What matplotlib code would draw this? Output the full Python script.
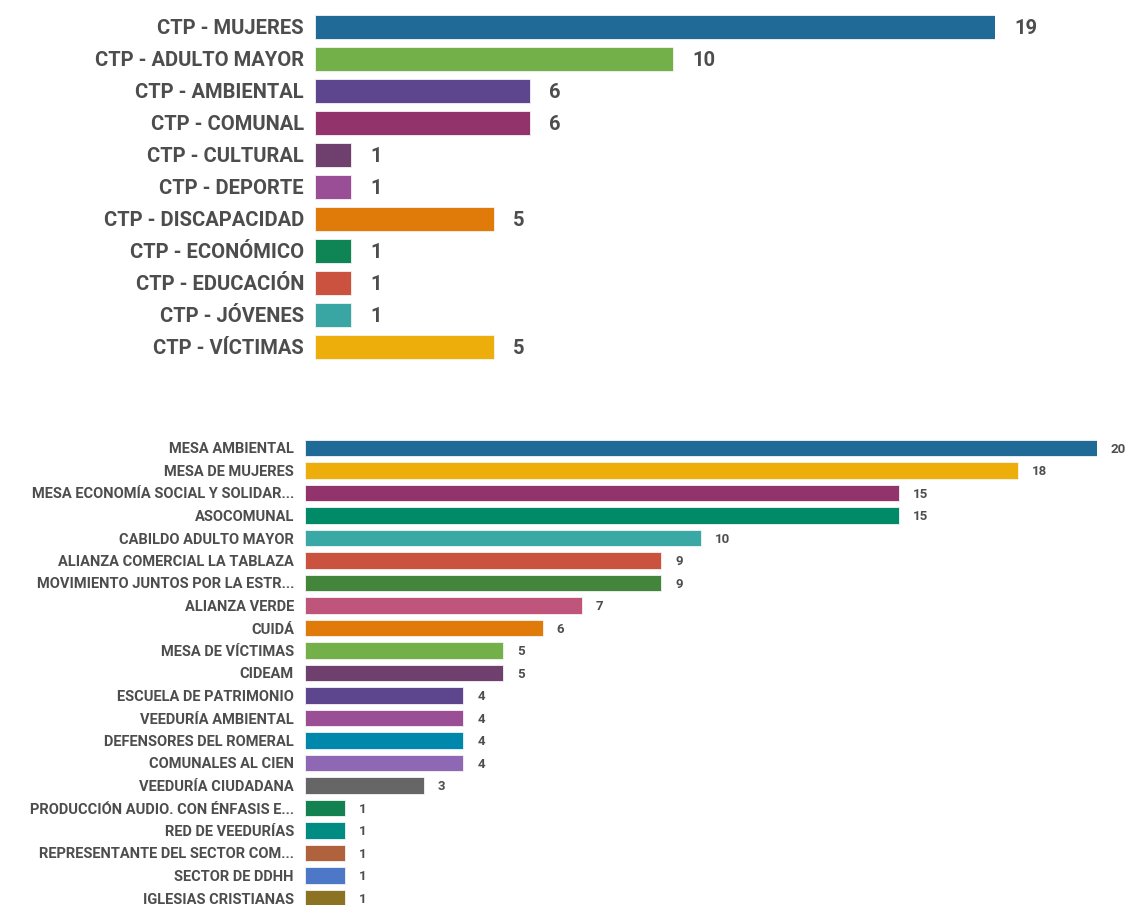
import matplotlib.pyplot as plt
from matplotlib import font_manager

# font: condensed bold look if available
names = {f.name for f in font_manager.fontManager.ttflist}
FONT = 'Liberation Sans Narrow' if 'Liberation Sans Narrow' in names else 'Roboto'
plt.rcParams['font.family'] = [FONT, 'DejaVu Sans']
TXT = '#4d4d4d'

# top chart data
ctp_labels = ['CTP - MUJERES', 'CTP - ADULTO MAYOR', 'CTP - AMBIENTAL', 'CTP - COMUNAL',
              'CTP - CULTURAL', 'CTP - DEPORTE', 'CTP - DISCAPACIDAD', 'CTP - ECONÓMICO',
              'CTP - EDUCACIÓN', 'CTP - JÓVENES', 'CTP - VÍCTIMAS']
ctp_values = [19, 10, 6, 6, 1, 1, 5, 1, 1, 1, 5]
ctp_colors = ['#1f6a96', '#74b04a', '#5d468e', '#92336b', '#6f3f6e', '#9a4e96',
              '#e07b0a', '#0f8455', '#cb523f', '#39a6a4', '#edae0b']

# bottom chart data
org_labels = ['MESA AMBIENTAL', 'MESA DE MUJERES', 'MESA ECONOMÍA SOCIAL Y SOLIDAR...',
              'ASOCOMUNAL', 'CABILDO ADULTO MAYOR', 'ALIANZA COMERCIAL LA TABLAZA',
              'MOVIMIENTO JUNTOS POR LA ESTR...', 'ALIANZA VERDE', 'CUIDÁ',
              'MESA DE VÍCTIMAS', 'CIDEAM', 'ESCUELA DE PATRIMONIO', 'VEEDURÍA AMBIENTAL',
              'DEFENSORES DEL ROMERAL', 'COMUNALES AL CIEN', 'VEEDURÍA CIUDADANA',
              'PRODUCCIÓN AUDIO. CON ÉNFASIS E...', 'RED DE VEEDURÍAS',
              'REPRESENTANTE DEL SECTOR COM...', 'SECTOR DE DDHH', 'IGLESIAS CRISTIANAS']
org_values = [20, 18, 15, 15, 10, 9, 9, 7, 6, 5, 5, 4, 4, 4, 4, 3, 1, 1, 1, 1, 1]
org_colors = ['#1f6a96', '#edae0b', '#92336b', '#008a67', '#3aa8a5', '#cb523f',
              '#43853b', '#bf557a', '#e07b0a', '#74b04a', '#6f3f6e', '#5d468e',
              '#9a4e96', '#0088ac', '#8e68b4', '#666666', '#148150', '#008c82',
              '#b0623c', '#4d78c8', '#8c7323']

W, H = 1132, 905
fig = plt.figure(figsize=(W / 100, H / 100), dpi=100)


def px_axes(left, top, width, height):
    return fig.add_axes([left / W, 1 - (top + height) / H, width / W, height / H])


def draw(ax, labels, values, colors, xmax, fs_lab, fs_val, pad_val):
    y = range(len(labels))
    ax.barh(y, values, height=0.75, color=colors, edgecolor='#f4f4f4', linewidth=0.6)
    ax.set_xlim(0, xmax)
    ax.set_ylim(len(labels) - 0.5, -0.5)
    ax.set_yticks(list(y))
    ax.set_yticklabels(labels, fontsize=fs_lab, fontweight='bold', color=TXT)
    ax.tick_params(axis='y', length=0, pad=8)
    ax.set_xticks([])
    for s in ax.spines.values():
        s.set_visible(False)
    for i, v in enumerate(values):
        ax.annotate(str(v), (v, i), xytext=(pad_val, -1), textcoords='offset points',
                    va='center', ha='left', fontsize=fs_val, fontweight='bold', color=TXT)


ax1 = px_axes(315, 11, 680, 352)
draw(ax1, ctp_labels, ctp_values, ctp_colors, 19, 14.5, 14.5, 14)

ax2 = px_axes(305, 436.75, 792, 472.5)
draw(ax2, org_labels, org_values, org_colors, 20, 10.5, 9.5, 10)

fig.savefig('out.png', dpi=100)
